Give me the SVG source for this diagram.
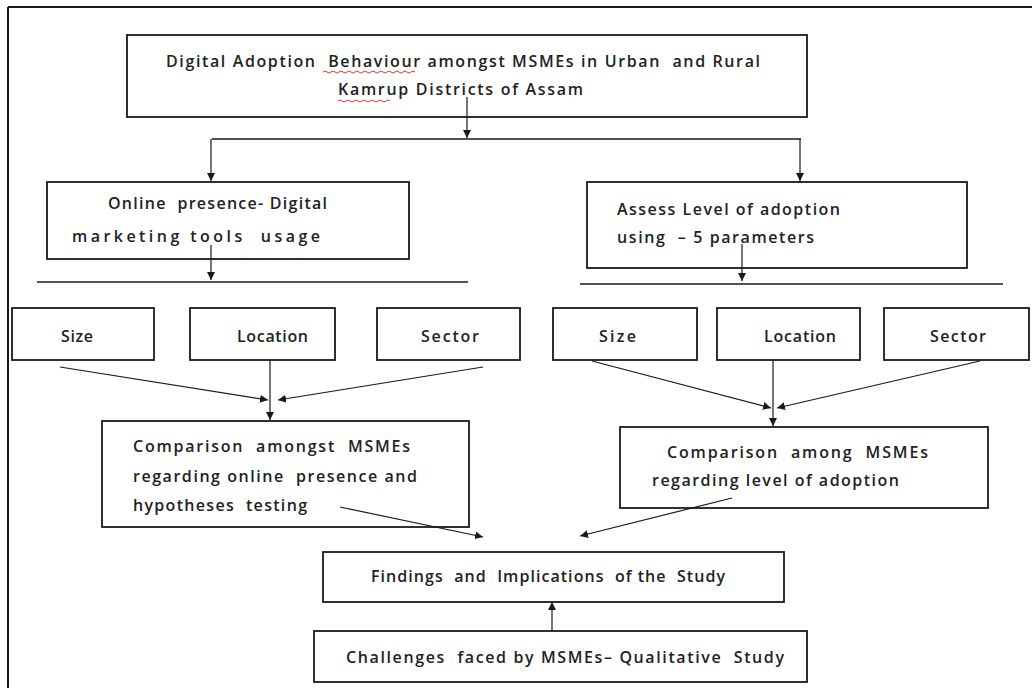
<svg xmlns="http://www.w3.org/2000/svg" width="1032" height="688" viewBox="0 0 1032 688">
<style>
.box{fill:#fff;stroke:#1a1a1a;stroke-width:1.8}
.t{font-family:"Open Sans","Liberation Sans",sans-serif;font-size:16px;font-weight:600;fill:#222;white-space:pre}
.c{stroke:#1a1a1a;stroke-width:1.5;fill:none}
.ca{stroke:#1a1a1a;stroke-width:1.2;fill:none;marker-end:url(#ah)}
.sq{stroke:#d33;stroke-width:1;fill:none}
</style>
<defs>
<marker id="ah" viewBox="0 0 10 10" refX="10" refY="5" markerWidth="8" markerHeight="8" markerUnits="userSpaceOnUse" orient="auto">
<path d="M0,0 L10,5 L0,10 z" fill="#1a1a1a"/>
</marker>
</defs>
<rect width="1032" height="688" fill="#fff"/>
<g id="frame">
<line x1="8" y1="7" x2="1032" y2="7" stroke="#1a1a1a" stroke-width="2"/>
<line x1="8" y1="7" x2="8" y2="688" stroke="#1a1a1a" stroke-width="2"/>
</g>
<g id="n-title">
<rect class="box" x="127" y="35" width="680" height="82"/>
<text class="t" x="166" y="67" textLength="594" lengthAdjust="spacing">Digital Adoption  Behaviour amongst MSMEs in Urban  and Rural</text>
<text class="t" x="338" y="95" textLength="245" lengthAdjust="spacing">Kamrup Districts of Assam</text>
<path class="sq" d="M323,72 q2,-2 4,0 t4,0 t4,0 t4,0 t4,0 t4,0 t4,0 t4,0 t4,0 t4,0 t4,0 t4,0 t4,0 t4,0 t4,0 t4,0 t4,0 t4,0 t4,0 t4,0 t4,0 t4,0 t4,0"/>
<path class="sq" d="M338,101 q2,-2 4,0 t4,0 t4,0 t4,0 t4,0 t4,0 t4,0 t4,0 t4,0 t4,0 t4,0 t4,0 t4,0"/>
</g>
<g id="n-online">
<rect class="box" x="47" y="182" width="362" height="77"/>
<text class="t" x="108" y="209" textLength="219" lengthAdjust="spacing">Online  presence- Digital</text>
<text class="t" x="72" y="242" textLength="248" lengthAdjust="spacing">marketing tools  usage</text>
</g>
<g id="n-assess">
<rect class="box" x="587" y="182" width="380" height="86"/>
<text class="t" x="617" y="215" textLength="223" lengthAdjust="spacing">Assess Level of adoption</text>
<text class="t" x="617" y="243" textLength="197" lengthAdjust="spacing">using  – 5 parameters</text>
</g>
<g id="n-size-l">
<rect class="box" x="12" y="308" width="142" height="52"/>
<text class="t" x="61" y="342" textLength="32" lengthAdjust="spacing">Size</text>
</g>
<g id="n-location-l">
<rect class="box" x="190" y="308" width="145" height="52"/>
<text class="t" x="237" y="342" textLength="71" lengthAdjust="spacing">Location</text>
</g>
<g id="n-sector-l">
<rect class="box" x="377" y="308" width="143" height="52"/>
<text class="t" x="421" y="342" textLength="58" lengthAdjust="spacing">Sector</text>
</g>
<g id="n-size-r">
<rect class="box" x="553" y="308" width="144" height="52"/>
<text class="t" x="599" y="342" textLength="37" lengthAdjust="spacing">Size</text>
</g>
<g id="n-location-r">
<rect class="box" x="717" y="308" width="143" height="52"/>
<text class="t" x="764" y="342" textLength="72" lengthAdjust="spacing">Location</text>
</g>
<g id="n-sector-r">
<rect class="box" x="884" y="308" width="145" height="52"/>
<text class="t" x="930" y="342" textLength="56" lengthAdjust="spacing">Sector</text>
</g>
<g id="n-comp-l">
<rect class="box" x="102" y="421" width="367" height="106"/>
<text class="t" x="133" y="452" textLength="277" lengthAdjust="spacing">Comparison  amongst  MSMEs</text>
<text class="t" x="133" y="482" textLength="284" lengthAdjust="spacing">regarding online  presence and</text>
<text class="t" x="133" y="511" textLength="174" lengthAdjust="spacing">hypotheses  testing</text>
</g>
<g id="n-comp-r">
<rect class="box" x="620" y="427" width="368" height="81"/>
<text class="t" x="667" y="458" textLength="261" lengthAdjust="spacing">Comparison  among  MSMEs</text>
<text class="t" x="652" y="486" textLength="247" lengthAdjust="spacing">regarding level of adoption</text>
</g>
<g id="n-findings">
<rect class="box" x="323" y="552" width="461" height="50"/>
<text class="t" x="371" y="582" textLength="354" lengthAdjust="spacing">Findings  and  Implications  of the  Study</text>
</g>
<g id="n-challenges">
<rect class="box" x="314" y="631" width="493" height="51"/>
<text class="t" x="346" y="663" textLength="438" lengthAdjust="spacing">Challenges  faced by MSMEs– Qualitative  Study</text>
</g>
<g id="connectors">
<line class="ca" x1="467" y1="97" x2="467" y2="138"/>
<line class="c" x1="212" y1="139" x2="801" y2="139"/>
<line class="ca" x1="211" y1="139" x2="211" y2="181"/>
<line class="ca" x1="800" y1="139" x2="800" y2="181"/>
<line class="ca" x1="211" y1="245" x2="211" y2="280"/>
<line class="c" x1="37" y1="282" x2="468" y2="282"/>
<line class="ca" x1="742" y1="244" x2="742" y2="281"/>
<line class="c" x1="580" y1="284" x2="1003" y2="284"/>
<line class="ca" x1="60" y1="367" x2="268" y2="400"/>
<line class="ca" x1="270" y1="360" x2="270" y2="420"/>
<line class="ca" x1="483" y1="367" x2="278" y2="400"/>
<line class="ca" x1="592" y1="361" x2="771" y2="408"/>
<line class="ca" x1="773" y1="360" x2="773" y2="426"/>
<line class="ca" x1="980" y1="361" x2="777" y2="408"/>
<line class="ca" x1="340" y1="507" x2="483" y2="537"/>
<line class="ca" x1="732" y1="498" x2="580" y2="536"/>
<line class="ca" x1="552" y1="631" x2="552" y2="602"/>
</g>
</svg>
